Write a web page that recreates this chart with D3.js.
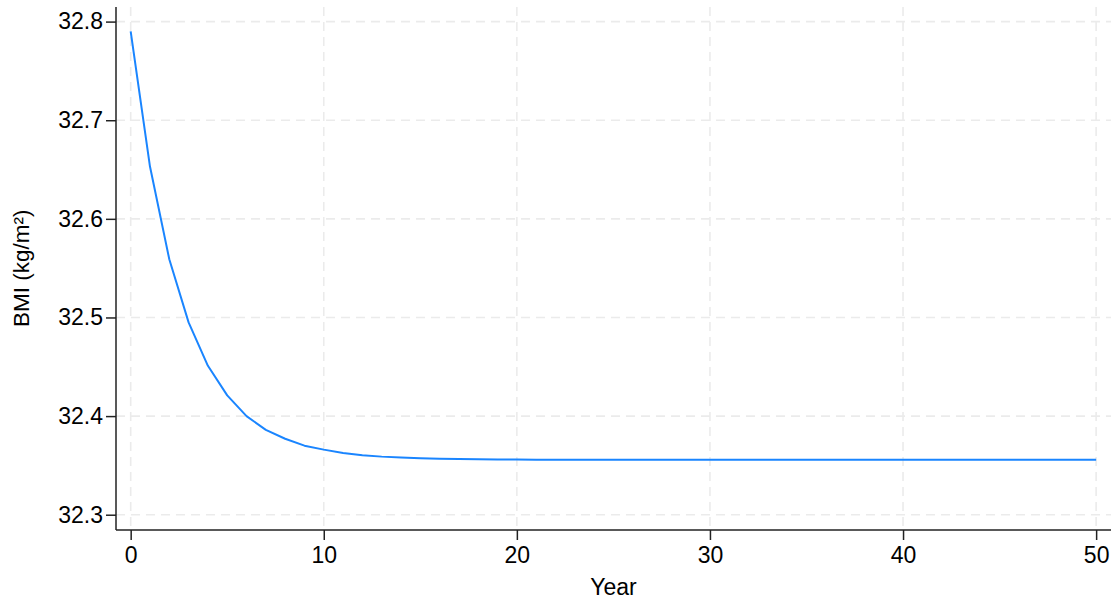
<!DOCTYPE html>
<html>
<head>
<meta charset="utf-8">
<script src="https://cdn.jsdelivr.net/npm/d3@7"></script>
<style>
  html, body { margin: 0; padding: 0; background: #fff; }
  svg { display: block; }
  text { font-family: "Liberation Sans", Arial, Helvetica, sans-serif; fill: #000; }
</style>
</head>
<body>
<svg id="chart" width="1119" height="607"></svg>
<script>
// Projected mean BMI by simulation year
const years = d3.range(0, 51);
const bmi = [
  32.790, 32.653, 32.559, 32.495, 32.451, 32.421, 32.400, 32.386, 32.377, 32.370,
  32.366, 32.3625, 32.3604, 32.3589, 32.3579, 32.3572, 32.3567, 32.3564, 32.3562, 32.3560,
  32.3559, 32.3558, 32.3558, 32.3558, 32.3558, 32.3557, 32.3557, 32.3557, 32.3557, 32.3557,
  32.3557, 32.3557, 32.3557, 32.3557, 32.3557, 32.3557, 32.3557, 32.3557, 32.3557, 32.3557,
  32.3557, 32.3557, 32.3557, 32.3557, 32.3557, 32.3557, 32.3557, 32.3557, 32.3557, 32.3557,
  32.3557
];
const xTicks = [0, 10, 20, 30, 40, 50];
const yTicks = [32.3, 32.4, 32.5, 32.6, 32.7, 32.8];
const xTitle = "Year";
const yTitle = "BMI (kg/m²)";

const svg = d3.select("#chart");
const plot = { left: 116, right: 1111, top: 7, bottom: 530 };
const fontSize = "23px";

const x = d3.scaleLinear().domain([-0.76, 50.77]).range([plot.left, plot.right]);
const y = d3.scaleLinear().domain([32.2845, 32.8148]).range([plot.bottom, plot.top]);

// Dashed grid
const grid = svg.append("g").attr("stroke", "#ebebeb").attr("stroke-width", 1.6)
  .attr("stroke-dasharray", "9,6");
grid.selectAll("line.gx").data(xTicks).join("line")
  .attr("x1", d => x(d)).attr("x2", d => x(d))
  .attr("y1", plot.top).attr("y2", plot.bottom);
grid.selectAll("line.gy").data(yTicks).join("line")
  .attr("x1", plot.left).attr("x2", plot.right)
  .attr("y1", d => y(d)).attr("y2", d => y(d));

// Axes
const xAxis = d3.axisBottom(x).tickValues(xTicks).tickSize(10).tickPadding(7)
  .tickFormat(d3.format("d"));
const yAxis = d3.axisLeft(y).tickValues(yTicks).tickSize(10).tickPadding(3)
  .tickFormat(d3.format(".1f"));

const gx = svg.append("g").attr("transform", `translate(0,${plot.bottom})`).call(xAxis);
const gy = svg.append("g").attr("transform", `translate(${plot.left},0)`).call(yAxis);

[gx, gy].forEach(g => {
  g.select(".domain").attr("stroke", "#222").attr("stroke-width", 1.5);
  g.selectAll(".tick line").attr("stroke", "#222").attr("stroke-width", 1.5);
  g.selectAll(".tick text").style("font-size", fontSize)
    .style("font-family", "'Liberation Sans', Arial, sans-serif").attr("fill", "#000");
});
gx.select(".domain").attr("d", `M${plot.left},0H${plot.right}`);
gy.select(".domain").attr("d", `M0,${plot.top}V${plot.bottom}`);

// BMI trajectory
const line = d3.line().x((d, i) => x(years[i])).y(d => y(d));
svg.append("path").datum(bmi)
  .attr("fill", "none").attr("stroke", "#1a85ff").attr("stroke-width", 2)
  .attr("stroke-linejoin", "round")
  .attr("d", line);

// Axis titles
svg.append("text").attr("x", (x(0) + x(50)) / 2).attr("y", 595)
  .attr("text-anchor", "middle").style("font-size", fontSize).text(xTitle);
svg.append("text").attr("transform", `translate(29,${(y(32.3) + y(32.8)) / 2}) rotate(-90)`)
  .attr("text-anchor", "middle").style("font-size", "22.5px").text(yTitle);
</script>
</body>
</html>
